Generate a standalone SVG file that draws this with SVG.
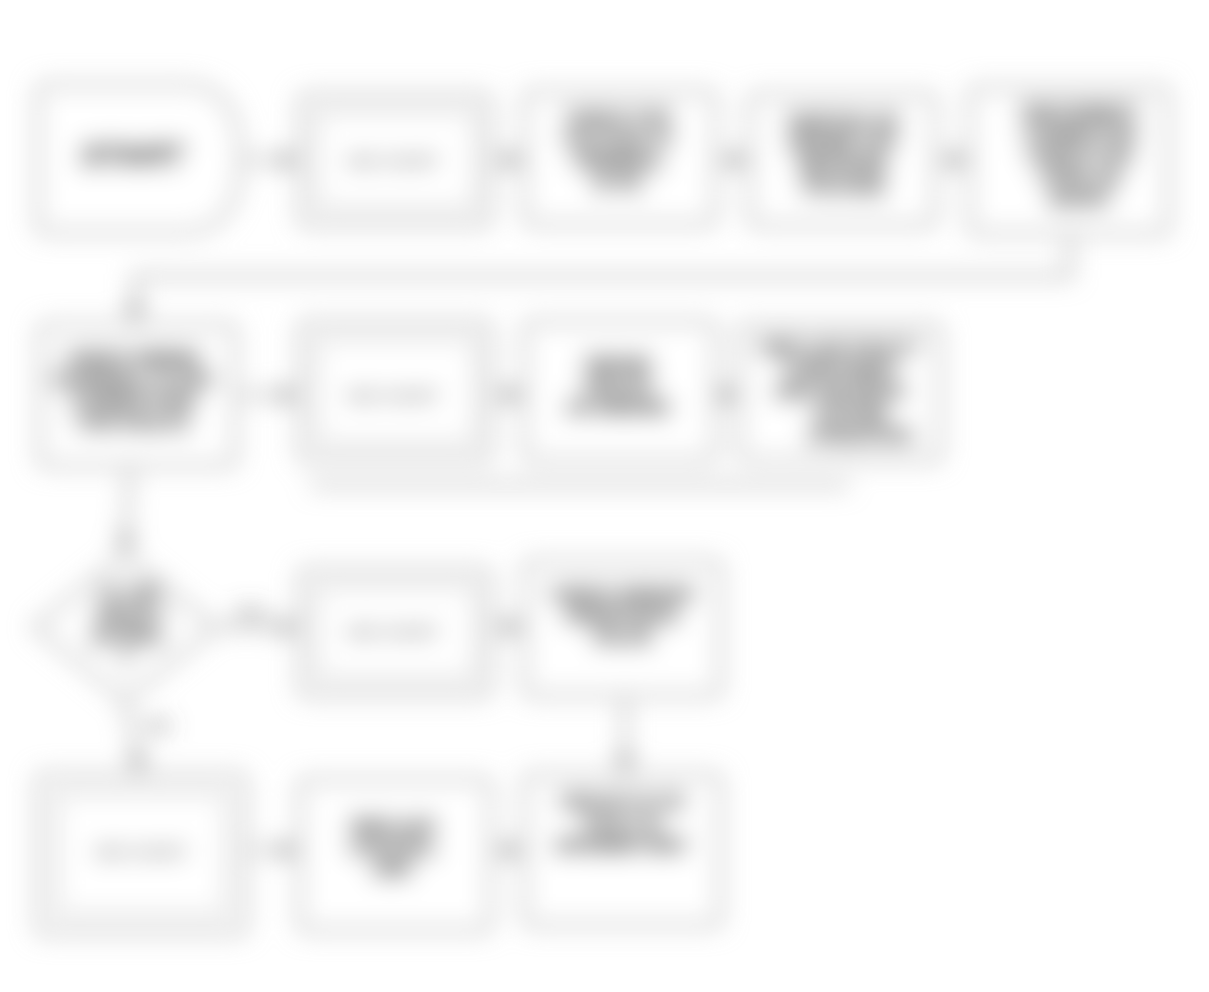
<svg xmlns="http://www.w3.org/2000/svg" width="1209" height="992" viewBox="0 0 1209 992">
<style>
.box{fill:#fff;stroke:#bdbdbd;stroke-width:6}
.inner{fill:#fff;stroke:#cacaca;stroke-width:5}
.t{font-family:"Liberation Sans",Arial,sans-serif;font-weight:bold;font-size:18px;fill:#000;stroke:#000;stroke-width:1.8;text-anchor:middle}
.s{font-family:"Liberation Sans",Arial,sans-serif;font-weight:bold;font-size:16px;fill:#444;text-anchor:middle}
.c{fill:none;stroke:#b0b0b0;stroke-width:5}
.lbl{font-family:"Liberation Sans",Arial,sans-serif;font-weight:bold;font-size:16px;fill:#666;text-anchor:middle}
</style>
<defs>
<filter id="blur" filterUnits="userSpaceOnUse" x="0" y="0" width="1209" height="992">
<feGaussianBlur stdDeviation="12"/>
</filter>
<marker id="ah" viewBox="0 0 10 10" refX="9" refY="5" markerWidth="4" markerHeight="4" orient="auto">
<path d="M0,0 L10,5 L0,10 z" fill="#999"/>
</marker>
</defs>
<rect width="1209" height="992" fill="#fff"/>
<g filter="url(#blur)">
<g id="connectors">
<path class="c" d="M240,160 L298,160" marker-end="url(#ah)"/>
<path class="c" d="M490,160 L523,160" marker-end="url(#ah)"/>
<path class="c" d="M715,160 L748,160" marker-end="url(#ah)"/>
<path class="c" d="M935,160 L968,160" marker-end="url(#ah)"/>
<path class="c" d="M1070,232 L1070,276 L135,276 L135,322" marker-end="url(#ah)"/>
<path class="c" d="M235,395 L298,395" marker-end="url(#ah)"/>
<path class="c" d="M490,395 L523,395" marker-end="url(#ah)"/>
<path class="c" d="M715,395 L738,395" marker-end="url(#ah)"/>
<path class="c" d="M310,485 L850,485"/>
<path class="c" d="M130,465 L125,553" marker-end="url(#ah)"/>
<path class="c" d="M215,627 L298,627" marker-end="url(#ah)"/>
<path class="c" d="M490,627 L523,627" marker-end="url(#ah)"/>
<path class="c" d="M625,695 L625,773" marker-end="url(#ah)"/>
<path class="c" d="M125,700 L140,773" marker-end="url(#ah)"/>
<path class="c" d="M245,850 L298,850" marker-end="url(#ah)"/>
<path class="c" d="M490,850 L523,850" marker-end="url(#ah)"/>
<text class="lbl" x="250" y="620">YES</text>
<text class="lbl" x="158" y="732">NO</text>
</g>
<g id="nA">
<path class="box" d="M48,85 L190,85 Q240,90 240,158 Q240,226 190,232 L48,232 Q38,232 38,222 L38,95 Q38,85 48,85 Z"/>
<text class="t" x="132" y="166" style="font-size:32px;font-style:italic">START</text>
</g>
<g id="nB">
<rect class="box" x="300" y="95" width="190" height="130" rx="6"/>
<rect class="inner" x="316" y="111" width="160" height="98" rx="4"/>
<text class="s" x="393" y="167">SEE CHART</text>
</g>
<g id="nC">
<rect class="box" x="525" y="92" width="190" height="132" rx="6"/>
<text class="t" x="618" y="124">CHECK FOR</text>
<text class="t" x="618" y="146">VOLTAGE AT</text>
<text class="t" x="618" y="168">TERMINAL</text>
<text class="t" x="618" y="190">IS OK</text>
</g>
<g id="nD">
<rect class="box" x="750" y="95" width="185" height="130" rx="6"/>
<text class="t" x="843" y="128">IGNITION ON</text>
<text class="t" x="843" y="150">ENGINE OFF</text>
<text class="t" x="843" y="172">MEASURE</text>
<text class="t" x="843" y="194">VOLTAGE</text>
</g>
<g id="nE">
<rect class="box" x="970" y="88" width="198" height="145" rx="6"/>
<text class="t" x="1080" y="118">DISCONNECT</text>
<text class="t" x="1080" y="140">CONNECTOR</text>
<text class="t" x="1080" y="162">CHECK FOR</text>
<text class="t" x="1080" y="184">OPEN OR</text>
<text class="t" x="1080" y="206">SHORT</text>
</g>
<g id="nF">
<rect class="box" x="40" y="325" width="195" height="140" rx="6"/>
<text class="t" x="133" y="364">CHECK WIRING</text>
<text class="t" x="133" y="386">HARNESS, PLUGS</text>
<text class="t" x="133" y="408">CONNECTORS</text>
<text class="t" x="133" y="430">FOR FAULTS</text>
</g>
<g id="nG">
<rect class="box" x="300" y="322" width="190" height="138" rx="6"/>
<rect class="inner" x="316" y="338" width="160" height="106" rx="4"/>
<text class="s" x="393" y="402">SEE CHART</text>
</g>
<g id="nH">
<rect class="box" x="525" y="322" width="190" height="138" rx="6"/>
<text class="t" x="618" y="370">REPAIR</text>
<text class="t" x="618" y="392">CIRCUIT</text>
<text class="t" x="618" y="414">AS NEEDED</text>
</g>
<g id="nI">
<rect class="box" x="740" y="325" width="200" height="135" rx="6"/>
<text class="t" x="840" y="354">REPLACE FAULTY</text>
<text class="t" x="840" y="376">COMPONENT</text>
<text class="t" x="840" y="398">AND RECHECK</text>
<text class="t" x="850" y="420">SYSTEM</text>
<text class="t" x="860" y="442">OPERATION</text>
</g>
<g id="nJ">
<path class="box" d="M125,555 L215,627 L125,700 L35,627 Z"/>
<text class="t" x="130" y="600">IS THE</text>
<text class="t" x="130" y="622">RESULT</text>
<text class="t" x="128" y="644">IN SPEC</text>
<text class="t" x="126" y="666">?</text>
</g>
<g id="nK">
<rect class="box" x="300" y="570" width="190" height="125" rx="6"/>
<rect class="inner" x="316" y="586" width="160" height="93" rx="4"/>
<text class="s" x="393" y="638">SEE CHART</text>
</g>
<g id="nL">
<rect class="box" x="525" y="562" width="195" height="133" rx="6"/>
<text class="t" x="622" y="600">CHECK SENSOR</text>
<text class="t" x="622" y="622">RESISTANCE</text>
<text class="t" x="622" y="644">VALUE</text>
</g>
<g id="nM">
<rect class="box" x="38" y="775" width="207" height="158" rx="6"/>
<rect class="inner" x="56" y="793" width="171" height="122" rx="4"/>
<text class="s" x="141" y="858">SEE CHART</text>
</g>
<g id="nN">
<rect class="box" x="300" y="780" width="190" height="150" rx="6"/>
<text class="t" x="393" y="832">REPLACE</text>
<text class="t" x="393" y="854">CONTROL</text>
<text class="t" x="393" y="876">UNIT</text>
</g>
<g id="nO">
<rect class="box" x="525" y="775" width="195" height="150" rx="6"/>
<text class="t" x="622" y="808">CIRCUIT IS OK</text>
<text class="t" x="622" y="830">FAULT IS</text>
<text class="t" x="622" y="852">INTERMITTENT</text>
</g>
</g>
</svg>
